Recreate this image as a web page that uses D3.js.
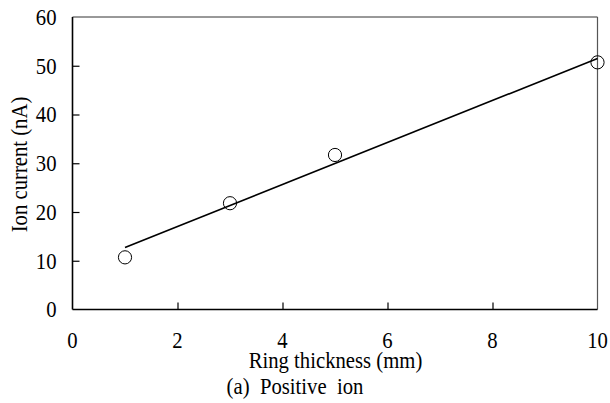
<!DOCTYPE html>
<html><head><meta charset="utf-8">
<script src="https://cdn.jsdelivr.net/npm/d3@7/dist/d3.min.js"></script>
<style>body{margin:0;background:#fff}svg{display:block}text{font-family:"Liberation Serif","Times New Roman",serif;fill:#000}</style>
</head><body>
<svg id="c" width="610" height="403"></svg>
<script>
const thickness = [1, 3, 5, 10];
const current = [10.7, 21.8, 31.7, 50.7];
const trendX = [1, 10];
const trendY = [12.7, 51.5];
const xTicks = [0, 2, 4, 6, 8, 10];
const yTicks = [0, 10, 20, 30, 40, 50, 60];
const xTitle = "Ring thickness (mm)";
const yTitle = "Ion current (nA)";
const caption = "(a)  Positive  ion";

const svg = d3.select("#c");
const L = 72.5, R = 597.5, T = 17, B = 309.5;
const FS = 23, SX = 0.9;
const x = d3.scaleLinear().domain([0, 10]).range([L, R]);
const y = d3.scaleLinear().domain([0, 60]).range([B, T]);

function label(g, tx, ty, rot, anchor) {
  return g.append("text")
    .attr("transform", `translate(${tx},${ty})${rot ? " rotate(" + rot + ")" : ""} scale(${SX},1)`)
    .attr("text-anchor", anchor).attr("font-size", FS);
}

// frame top/right
svg.append("line").attr("x1", L).attr("x2", R).attr("y1", T).attr("y2", T).attr("stroke", "#333").attr("stroke-width", 1);
svg.append("line").attr("x1", R).attr("x2", R).attr("y1", T).attr("y2", B).attr("stroke", "#555").attr("stroke-width", 1.2);

const yAxis = svg.append("g").attr("transform", `translate(${L},0)`)
  .call(d3.axisRight(y).tickValues(yTicks).tickSize(7).tickFormat(""));
yAxis.select(".domain").attr("d", `M0,${T}V${B}`).attr("stroke-width", 1.6);
yAxis.selectAll(".tick line").attr("stroke-width", 1.2).filter(d => d === 0 || d === 60).remove();
const yl = svg.append("g");
yTicks.forEach(d => label(yl, 56.5, y(d) + 7.8, 0, "end").text(d));

const xAxis = svg.append("g").attr("transform", `translate(0,${B})`)
  .call(d3.axisTop(x).tickValues(xTicks).tickSize(7).tickFormat(""));
xAxis.select(".domain").attr("d", `M${L},0H${R}`).attr("stroke-width", 1.6);
xAxis.selectAll(".tick line").attr("stroke-width", 1.2).filter(d => d === 0 || d === 10).remove();
const xl = svg.append("g");
xTicks.forEach(d => label(xl, x(d), 348.3, 0, "middle").text(d));

label(svg, 335.5, 368.3, 0, "middle").text(xTitle);
label(svg, 295, 394.3, 0, "middle").attr("xml:space", "preserve").style("white-space", "pre").text(caption);
label(svg, 26.5, 164.5, -90, "middle").text(yTitle);

svg.append("line").attr("x1", x(trendX[0])).attr("y1", y(trendY[0])).attr("x2", x(trendX[1])).attr("y2", y(trendY[1]))
  .attr("stroke", "#000").attr("stroke-width", 1.6);

svg.append("g").selectAll("circle").data(thickness.map((t, i) => [t, current[i]])).join("circle")
  .attr("cx", d => x(d[0])).attr("cy", d => y(d[1])).attr("r", 6.6)
  .attr("fill", "none").attr("stroke", "#000").attr("stroke-width", 1);
</script>
</body></html>
